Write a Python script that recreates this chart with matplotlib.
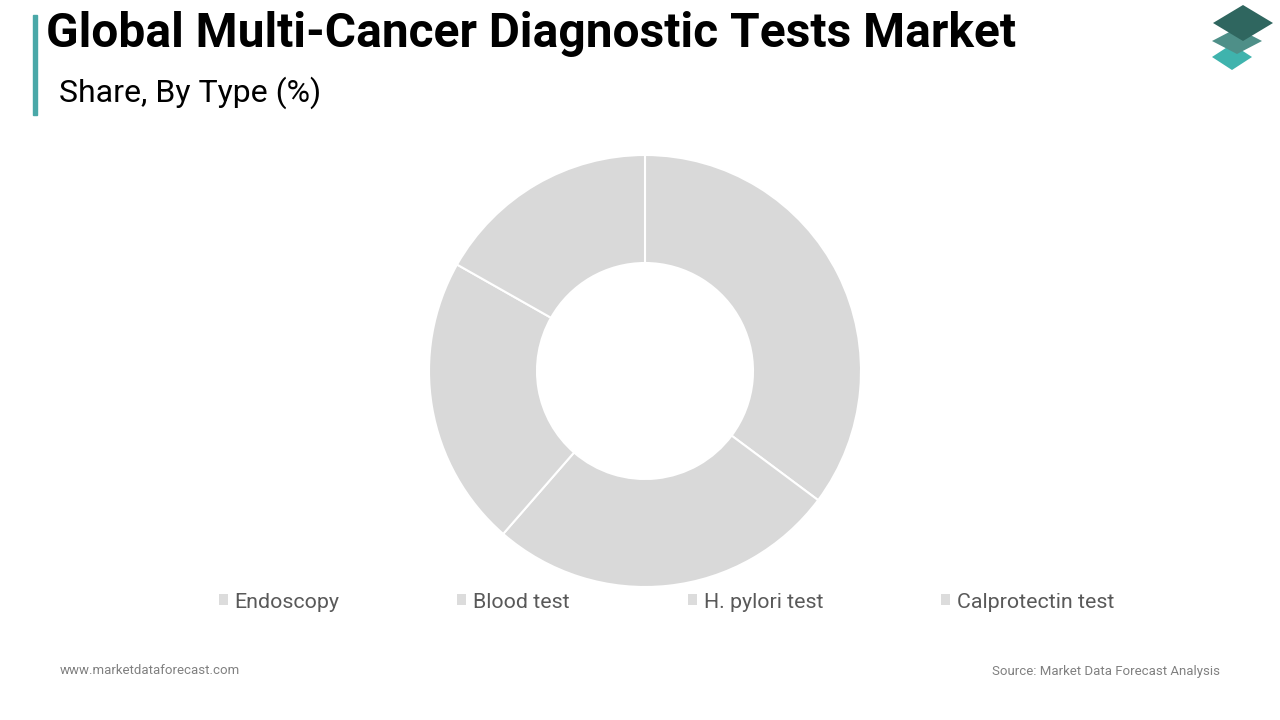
import matplotlib
matplotlib.use("Agg")
import matplotlib.pyplot as plt
from matplotlib.patches import Polygon, Rectangle

categories = ["Endoscopy", "Blood test", "H. pylori test", "Calprotectin test"]
shares = [35.2, 26.2, 21.8, 16.8]
title = "Global Multi-Cancer Diagnostic Tests Market"
subtitle = "Share, By Type (%)"

plt.rcParams['font.family'] = ['Roboto', 'DejaVu Sans']

W, H = 1280, 720
fig = plt.figure(figsize=(12.8, 7.2), dpi=100)
fig.patch.set_facecolor("white")

def fx(x):
    return x / W

def fy(y):
    return 1 - y / H

# Donut
cx, cy, R = 645, 371, 216
box = 440
ax = fig.add_axes([fx(cx - box / 2), fy(cy + box / 2), box / W, box / H])
wedges, _ = ax.pie(shares, startangle=90, counterclock=False, radius=1,
                   colors=["#d9d9d9"] * len(shares),
                   wedgeprops=dict(width=0.5, edgecolor="white", linewidth=1.5))
lim = (box / 2) / R
ax.set_xlim(-lim, lim)
ax.set_ylim(-lim, lim)
ax.set_aspect("equal")
ax.axis("off")

# Legend
leg = fig.legend(wedges, categories, loc="center left",
                 bbox_to_anchor=(fx(210), fy(602)), ncol=4, frameon=False,
                 fontsize=15.4, handlelength=0.42, handleheight=0.42,
                 handletextpad=0.33, columnspacing=5.5, borderaxespad=0)
for t in leg.get_texts():
    t.set_color("#595959")
for h in leg.legend_handles:
    h.set_facecolor("#dcdcdc")
    h.set_edgecolor("none")

# Title bar & texts
fig.patches.append(Rectangle((fx(33), fy(115)), 4 / W, 100 / H,
                             transform=fig.transFigure, color="#4aa8a8"))
fig.text(fx(46), fy(34), title, fontsize=34.5, fontweight="bold",
         color="black", va="center", ha="left")
fig.text(fx(59), fy(93), subtitle, fontsize=23, color="black",
         va="center", ha="left")
fig.text(fx(60), fy(671), "www.marketdataforecast.com", fontsize=9.5,
         color="#808080", va="center", ha="left")
fig.text(fx(1220), fy(671), "Source: Market Data Forecast Analysis",
         fontsize=9.5, color="#808080", va="center", ha="right")

# Logo
def diamond(cxp, cyp, hw, hh, color):
    pts = [(fx(cxp - hw), fy(cyp)), (fx(cxp), fy(cyp - hh)),
           (fx(cxp + hw), fy(cyp)), (fx(cxp), fy(cyp + hh))]
    fig.patches.append(Polygon(pts, closed=True, transform=fig.transFigure,
                               facecolor=color, edgecolor="none"))

diamond(1232, 57, 20, 13, "#3fb3ad")
diamond(1237, 41, 25, 13, "#4e8f88")
diamond(1243, 23, 30, 18, "#2f665f")

fig.savefig("out.png", dpi=100, facecolor="white")
